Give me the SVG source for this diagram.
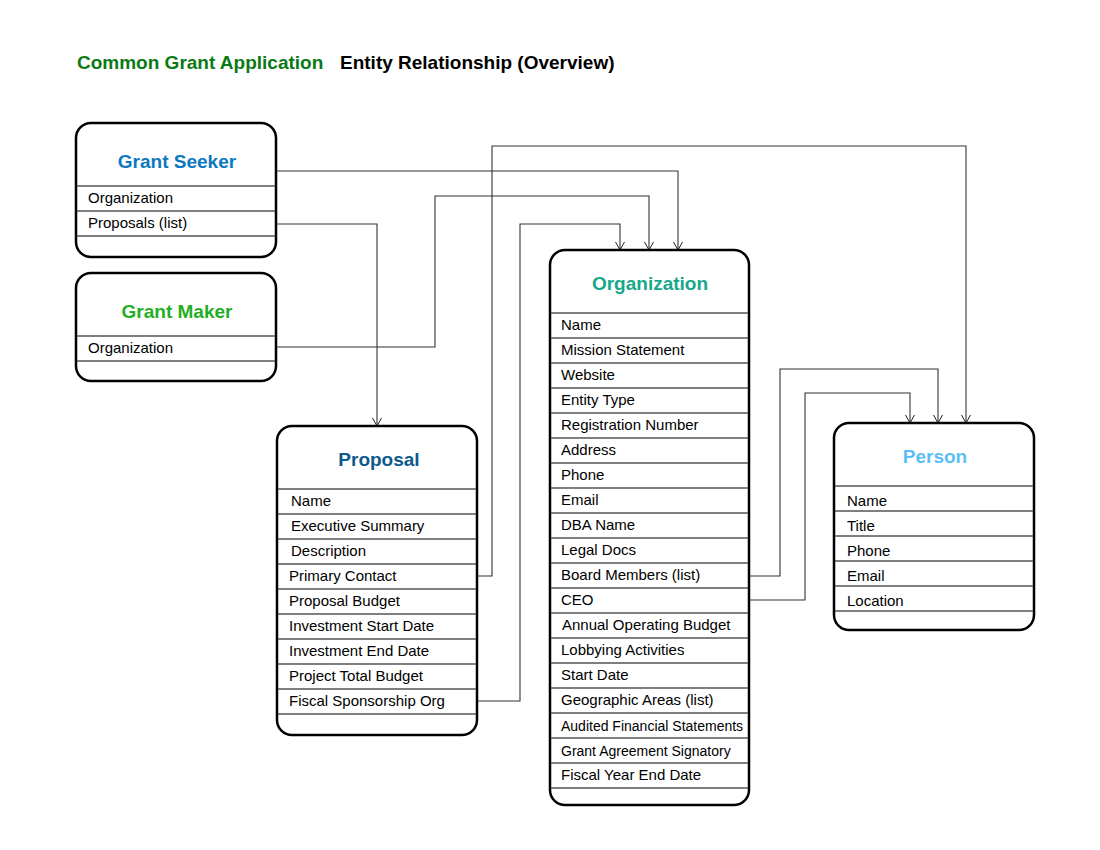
<svg xmlns="http://www.w3.org/2000/svg" width="1100" height="850" viewBox="0 0 1100 850">
<defs>
<marker id="arr" markerUnits="userSpaceOnUse" markerWidth="12" markerHeight="12" viewBox="0 0 12 12" refX="11" refY="6" orient="auto">
<path d="M3,1.5 L11,6 L3,10.5" fill="none" stroke="#222" stroke-width="1"/>
</marker>
</defs>
<style>
.box{fill:#fff;stroke:#000;stroke-width:2.5}
.row{stroke:#555;stroke-width:1.3}
.hd{font-family:"Liberation Sans",Arial,sans-serif;font-weight:bold;font-size:19px;text-anchor:middle}
.t{font-family:"Liberation Sans",Arial,sans-serif;font-size:15px;fill:#000}
.s{font-size:14px}
.c{fill:none;stroke:#333;stroke-width:1.1;marker-end:url(#arr)}
</style>
<rect width="1100" height="850" fill="#fff"/>
<g id="title" font-family="'Liberation Sans',Arial,sans-serif" font-weight="bold" font-size="19">
<text x="77" y="69" fill="#0b7a14">Common Grant Application</text>
<text x="340" y="69" fill="#000">Entity Relationship (Overview)</text>
</g>
<g id="connectors">
<polyline class="c" points="276,171 678,171 678,250"/>
<polyline class="c" points="276,224 377,224 377,426"/>
<polyline class="c" points="276,347 435,347 435,196 649,196 649,250"/>
<polyline class="c" points="478,576 492,576 492,146 966,146 966,423"/>
<polyline class="c" points="478,701 520,701 520,224 620,224 620,250"/>
<polyline class="c" points="750,576 780,576 780,369 938,369 938,423"/>
<polyline class="c" points="750,600 805,600 805,393 910,393 910,423"/>
</g>
<g id="grant-seeker">
<rect class="box" x="76" y="123" width="200" height="134" rx="15"/>
<text class="hd" x="177" y="168" fill="#0b78bf">Grant Seeker</text>
<path class="row" d="M77,186H275M77,211H275M77,236H275"/>
<text class="t" x="88" y="203">Organization</text>
<text class="t" x="88" y="228">Proposals (list)</text>
</g>
<g id="grant-maker">
<rect class="box" x="76" y="273" width="200" height="108" rx="15"/>
<text class="hd" x="177" y="318" fill="#1fae24">Grant Maker</text>
<path class="row" d="M77,336H275M77,361H275"/>
<text class="t" x="88" y="353">Organization</text>
</g>
<g id="proposal">
<rect class="box" x="277" y="426" width="200" height="309" rx="15"/>
<text class="hd" x="379" y="466" fill="#0d5a8c">Proposal</text>
<path class="row" d="M278,489H476M278,514H476M278,539H476M278,564H476M278,589H476M278,614H476M278,639H476M278,664H476M278,689H476M278,714H476"/>
<text class="t" x="291" y="506">Name</text>
<text class="t" x="291" y="531">Executive Summary</text>
<text class="t" x="291" y="556">Description</text>
<text class="t" x="289" y="581">Primary Contact</text>
<text class="t" x="289" y="606">Proposal Budget</text>
<text class="t" x="289" y="631">Investment Start Date</text>
<text class="t" x="289" y="656">Investment End Date</text>
<text class="t" x="289" y="681">Project Total Budget</text>
<text class="t" x="289" y="706">Fiscal Sponsorship Org</text>
</g>
<g id="organization">
<rect class="box" x="550" y="250" width="199" height="555" rx="15"/>
<text class="hd" x="650" y="290" fill="#16a88a">Organization</text>
<path class="row" d="M551,313H748M551,338H748M551,363H748M551,388H748M551,413H748M551,438H748M551,463H748M551,488H748M551,513H748M551,538H748M551,563H748M551,588H748M551,613H748M551,638H748M551,663H748M551,688H748M551,713H748M551,738H748M551,763H748M551,788H748"/>
<text class="t" x="561" y="330">Name</text>
<text class="t" x="561" y="355">Mission Statement</text>
<text class="t" x="561" y="380">Website</text>
<text class="t" x="561" y="405">Entity Type</text>
<text class="t" x="561" y="430">Registration Number</text>
<text class="t" x="561" y="455">Address</text>
<text class="t" x="561" y="480">Phone</text>
<text class="t" x="561" y="505">Email</text>
<text class="t" x="561" y="530">DBA Name</text>
<text class="t" x="561" y="555">Legal Docs</text>
<text class="t" x="561" y="580">Board Members (list)</text>
<text class="t" x="561" y="605">CEO</text>
<text class="t" x="562" y="630">Annual Operating Budget</text>
<text class="t" x="561" y="655">Lobbying Activities</text>
<text class="t" x="561" y="680">Start Date</text>
<text class="t" x="561" y="705">Geographic Areas (list)</text>
<text class="t s" x="561" y="731" font-size="13.8">Audited Financial Statements</text>
<text class="t s" x="561" y="756" font-size="13.9">Grant Agreement Signatory</text>
<text class="t" x="561" y="780">Fiscal Year End Date</text>
</g>
<g id="person">
<rect class="box" x="834" y="423" width="200" height="207" rx="15"/>
<text class="hd" x="935" y="463" fill="#5cc0f7">Person</text>
<path class="row" d="M835,486H1033M835,511H1033M835,536H1033M835,561H1033M835,586H1033M835,611H1033"/>
<text class="t" x="847" y="506">Name</text>
<text class="t" x="847" y="531">Title</text>
<text class="t" x="847" y="556">Phone</text>
<text class="t" x="847" y="581">Email</text>
<text class="t" x="847" y="606">Location</text>
</g>
</svg>
